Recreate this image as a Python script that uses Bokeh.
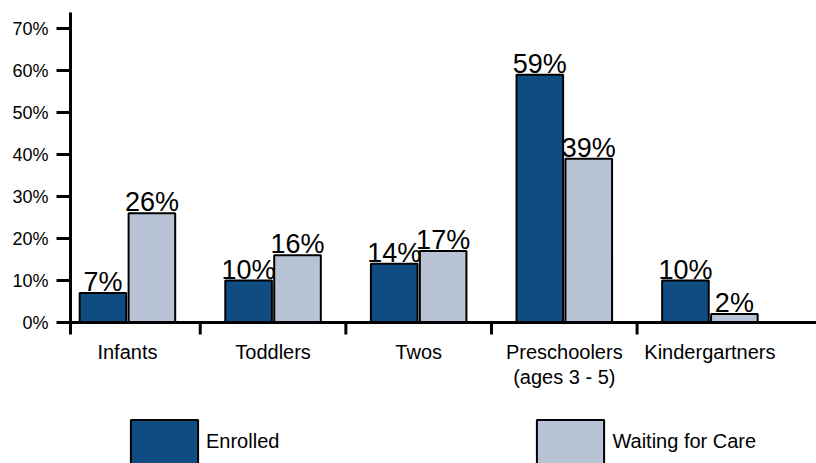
from bokeh.plotting import figure
from bokeh.models import (Range1d, FixedTicker, PrintfTickFormatter, Legend, LegendItem,
                          ColumnDataSource, Span)
from bokeh.transform import dodge
from bokeh.core.properties import value
from bokeh.embed import file_html
from bokeh.resources import INLINE

categories = ["Infants", "Toddlers", "Twos", "Preschoolers\n(ages 3 - 5)", "Kindergartners"]
enrolled = [7, 10, 14, 59, 10]
waiting = [26, 16, 17, 39, 2]
y_ticks = [0, 10, 20, 30, 40, 50, 60, 70]

FONT = "Liberation Sans"
C_ENR = "#0F4C81"
C_WAIT = "#B8C4D6"

PX = 4.2            # pixels per percentage point
TICK = 12 / PX      # category tick length below the baseline (data units)

idx = list(range(len(categories)))
src = ColumnDataSource(dict(
    x=idx, enrolled=enrolled, waiting=waiting,
    enr_lbl=[f"{v}%" for v in enrolled],
    wait_lbl=[f"{v}%" for v in waiting],
))

line1 = [c.split("\n")[0] for c in categories]
line2 = [c.split("\n")[1] if "\n" in c else "" for c in categories]
cat_src = ColumnDataSource(dict(x=idx, l1=line1, l2=line2,
                                y1=[-29 / PX] * len(idx), y2=[-54 / PX] * len(idx)))

bounds = [i + 0.5 for i in idx[:-1]]
tick_src = ColumnDataSource(dict(x=bounds, y0=[0] * len(bounds), y1=[-TICK] * len(bounds)))

x_start, x_end = -0.391, 4.732
y_start, y_end = -(463 - 322) / PX, (322 - 12) / PX

p = figure(width=816, height=463, output_backend="svg", toolbar_location=None,
           x_range=Range1d(x_start, x_end), y_range=Range1d(y_start, y_end),
           min_border_left=70, min_border_right=0, min_border_top=12, min_border_bottom=0)
p.outline_line_color = None
p.grid.grid_line_color = None
p.xaxis.visible = False

off = 0.168
bw = 0.32
r1 = p.vbar(x=dodge("x", -off), top="enrolled", width=bw, source=src,
            fill_color=C_ENR, line_color="black", line_width=2)
r2 = p.vbar(x=dodge("x", off), top="waiting", width=bw, source=src,
            fill_color=C_WAIT, line_color="black", line_width=2)

for col, lbl, o in (("enrolled", "enr_lbl", -off), ("waiting", "wait_lbl", off)):
    p.text(x=dodge("x", o), y=col, text=lbl, source=src, text_align="center",
           text_baseline="middle", y_offset=-11, text_font=value(FONT),
           text_font_size="27px", text_color="black")

# horizontal baseline (category axis) with boundary ticks
p.add_layout(Span(location=0, dimension="width", line_color="black", line_width=3))
p.segment(x0="x", y0="y0", x1="x", y1="y1", source=tick_src, line_color="black", line_width=3)

# category labels
p.text(x="x", y="y1", text="l1", source=cat_src, text_align="center", text_baseline="middle",
       text_font=value(FONT), text_font_size="20px", text_color="black")
p.text(x="x", y="y2", text="l2", source=cat_src, text_align="center", text_baseline="middle",
       text_font=value(FONT), text_font_size="20px", text_color="black")

# y axis
ya = p.yaxis[0]
ya.bounds = (-TICK, y_end)
ya.ticker = FixedTicker(ticks=y_ticks, minor_ticks=[])
ya.formatter = PrintfTickFormatter(format="%d%%")
ya.axis_line_width = 3
ya.axis_line_color = "black"
ya.major_tick_out = 14
ya.major_tick_in = 0
ya.major_tick_line_width = 3
ya.major_tick_line_color = "black"
ya.minor_tick_line_color = None
ya.major_label_standoff = 8
ya.major_label_text_font = FONT
ya.major_label_text_font_size = "18px"
ya.major_label_text_color = "black"

legend = Legend(items=[LegendItem(label="Enrolled", renderers=[r1]),
                       LegendItem(label="Waiting for Care", renderers=[r2])],
                orientation="horizontal", location=(52, -6),
                glyph_width=84, glyph_height=55, label_standoff=0, spacing=249,
                margin=0, padding=0, border_line_color=None,
                background_fill_alpha=0,
                label_text_font=FONT, label_text_font_size="20px",
                label_text_color="black")
p.add_layout(legend, "center")

open("out.html", "w").write(file_html(p, INLINE))
